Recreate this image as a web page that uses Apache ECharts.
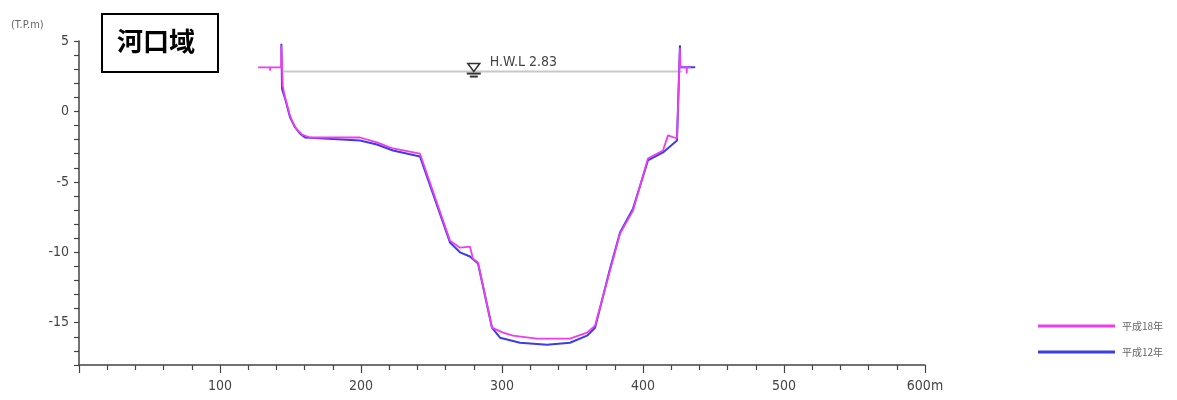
<!DOCTYPE html>
<html>
<head>
<meta charset="utf-8">
<script src="https://cdn.jsdelivr.net/npm/echarts@6/dist/echarts.min.js"></script>
<style>
html,body{margin:0;padding:0;background:#fff;}
#chart{width:1177px;height:400px;}
</style>
</head>
<body>
<div id="chart"></div>
<script>
// ---- data ----
const TITLE = '河口域';
const Y_NAME = '(T.P.m)';
const SERIES_NAMES = ['平成18年', '平成12年'];
const HWL_LABEL = 'H.W.L 2.83';
const HWL_LEVEL = 2.83;
const HWL_X = [145, 428];
const HWL_MARK_X = 280;
const X_TICK_LABELS = {100: '100', 200: '200', 300: '300', 400: '400', 500: '500', 600: '600m'};
const Y_TICK_LABELS = {5: '5', 0: '0', '-5': '-5', '-10': '-10', '-15': '-15'};

// 平成18年 (magenta): [distance m, elevation T.P.m]
const h18 = [
  [127, 3.13], [135.5, 3.13], [135.5, 2.9], [135.7, 3.13], [143.3, 3.13], [143.5, 4.7],
  [144.5, 1.8], [146.1, 1.0], [149.6, -0.28], [151, -0.64], [153.9, -1.21], [158.2, -1.65],
  [163.8, -1.85], [178, -1.85], [199.3, -1.85], [211.3, -2.2], [222.7, -2.63], [241.8, -2.99],
  [263.1, -9.17], [270.2, -9.67], [277.3, -9.6], [279.4, -10.45], [283, -10.73],
  [292.9, -15.35], [300.7, -15.7], [307.8, -15.92], [324.8, -16.13], [348.2, -16.13],
  [360.3, -15.7], [366, -15.2], [376.6, -11.3], [383.7, -8.67], [392.9, -7.04],
  [403.5, -3.34], [414.2, -2.77], [417.7, -1.7], [424.1, -1.92], [426.2, 4.48],
  [426.4, 3.13], [431, 3.13], [431, 2.7], [431.2, 3.13], [434, 3.13]
];
// 平成12年 (blue)
const h12 = [
  [143.5, 4.8], [144, 1.6], [146.5, 0.8], [149.6, -0.4], [153, -1.1], [157, -1.6],
  [160.3, -1.85], [180, -1.95], [199.3, -2.06], [211.3, -2.35], [222.7, -2.77], [241.8, -3.2],
  [263.1, -9.3], [270.2, -10.0], [277.3, -10.3], [283, -10.8], [292.9, -15.35],
  [298.6, -16.06], [312.8, -16.42], [331.9, -16.56], [348.2, -16.42], [360.3, -15.92],
  [366, -15.35], [376.6, -11.16], [383.7, -8.6], [392.9, -6.9], [403.5, -3.48],
  [414.2, -2.91], [424.1, -2.06], [426.2, 4.69], [426.4, 3.13], [437, 3.13]
];

const COLORS = {h18: '#f03cf0', h12: '#3c3ce8', hwl: '#c8c8c8'};
const FONT = '"Liberation Sans Narrow", "DejaVu Sans Condensed", "Liberation Sans", sans-serif';

const chart = echarts.init(document.getElementById('chart'), null, {renderer: 'canvas'});

const option = {
  backgroundColor: '#fff',
  animation: false,
  grid: {left: 79, right: 252, top: 41, bottom: 35, containLabel: false},
  xAxis: {
    type: 'value', min: 0, max: 600, interval: 100,
    axisLine: {show: true, onZero: false, lineStyle: {color: '#444', width: 1.5}},
    axisTick: {show: true, length: 8, lineStyle: {color: '#444', width: 1.2}},
    minorTick: {show: true, splitNumber: 5, length: 5, lineStyle: {color: '#444', width: 1.2}},
    splitLine: {show: false},
    axisLabel: {
      margin: 14, color: '#444', fontSize: 14, fontFamily: FONT,
      formatter: v => X_TICK_LABELS[v] || ''
    }
  },
  yAxis: {
    type: 'value', min: -18, max: 5, interval: 1,
    axisLine: {show: true, onZero: false, lineStyle: {color: '#444', width: 1.5}},
    axisTick: {show: true, length: 5, lineStyle: {color: '#444', width: 1.2}},
    splitLine: {show: false},
    axisLabel: {
      margin: 10, color: '#444', fontSize: 14, fontFamily: FONT,
      formatter: v => (Y_TICK_LABELS[String(v)] || '')
    }
  },
  legend: {
    data: SERIES_NAMES.map(n => ({name: n, icon: 'rect'})),
    orient: 'vertical',
    left: 1033, top: 316,
    itemWidth: 77, itemHeight: 3, itemGap: 16,
    textStyle: {color: '#666', fontSize: 10, fontFamily: '"Noto Sans CJK JP", sans-serif', padding: [0, 0, 0, 2]}
  },
  series: [
    {
      name: 'HWL', type: 'line', data: [[HWL_X[0], HWL_LEVEL], [HWL_X[1], HWL_LEVEL]],
      symbol: 'none', lineStyle: {color: COLORS.hwl, width: 2}, z: 1, silent: true
    },
    {
      name: SERIES_NAMES[1], type: 'line', data: h12, symbol: 'none',
      itemStyle: {color: COLORS.h12}, lineStyle: {color: COLORS.h12, width: 2}, z: 2
    },
    {
      name: SERIES_NAMES[0], type: 'line', data: h18, symbol: 'none',
      itemStyle: {color: COLORS.h18}, lineStyle: {color: COLORS.h18, width: 1.8}, z: 3
    },
    {
      name: 'HWLmark', type: 'custom', data: [[HWL_MARK_X, HWL_LEVEL]], z: 4, silent: true,
      renderItem: function (params, api) {
        const p = api.coord([api.value(0), api.value(1)]);
        const x = p[0], y = p[1];
        return {
          type: 'group',
          children: [
            {type: 'polygon', shape: {points: [[x - 6, y - 8], [x + 6, y - 8], [x, y]]},
              style: {fill: 'none', stroke: '#333', lineWidth: 1.5}},
            {type: 'line', shape: {x1: x - 7, y1: y + 2, x2: x + 7, y2: y + 2},
              style: {stroke: '#333', lineWidth: 2}},
            {type: 'line', shape: {x1: x - 4, y1: y + 5, x2: x + 4, y2: y + 5},
              style: {stroke: '#333', lineWidth: 2}},
            {type: 'text', x: x + 16, y: y - 9,
              style: {text: HWL_LABEL, fill: '#444', fontSize: 14, fontFamily: FONT,
                verticalAlign: 'middle', align: 'left'}}
          ]
        };
      }
    }
  ],
  graphic: [
    {type: 'rect', left: 101, top: 13, shape: {width: 116, height: 58},
      style: {fill: '#fff', stroke: '#000', lineWidth: 2}},
    {type: 'text', left: 117, top: 28,
      style: {text: TITLE, fill: '#000', fontSize: 26, fontWeight: 'bold',
        fontFamily: '"Noto Sans CJK JP", sans-serif'}},
    {type: 'text', left: 11, top: 20,
      style: {text: Y_NAME, fill: '#666', fontSize: 11, fontFamily: FONT}}
  ]
};
chart.setOption(option);
</script>
</body>
</html>
